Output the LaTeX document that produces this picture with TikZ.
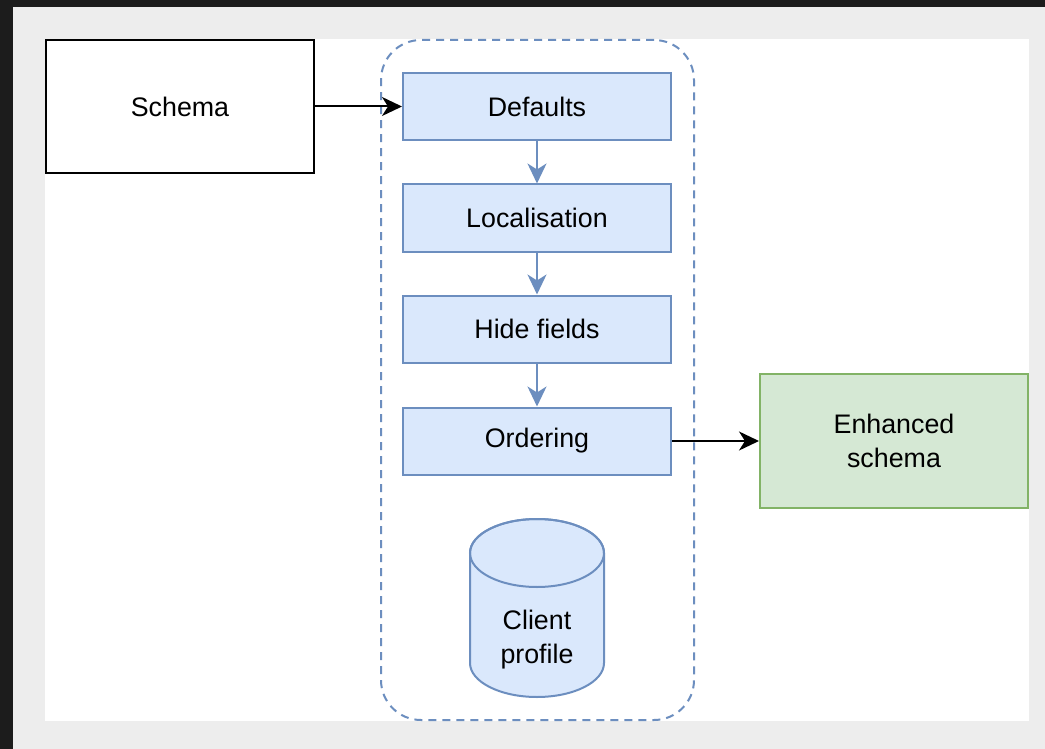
\documentclass[tikz,border=0pt]{standalone}
\usepackage{fontspec}
\setmainfont{Liberation Sans}
\usetikzlibrary{arrows.meta}

\definecolor{woodbg}{HTML}{1C1C1C}
\definecolor{panelgray}{HTML}{EDEDED}
\definecolor{stagefill}{HTML}{DAE8FC}
\definecolor{stageline}{HTML}{6C8EBF}
\definecolor{outfill}{HTML}{D5E8D4}
\definecolor{outline}{HTML}{82B366}

\tikzset{
    stage/.style={draw=stageline, fill=stagefill, line width=1pt, minimum width=134pt, minimum height=33.5pt, inner sep=0pt},
    bigbox/.style={line width=1pt, minimum width=134pt, minimum height=66.5pt, inner sep=0pt, align=center},
    flow/.style={line width=1pt, -{Stealth[length=10pt, width=9.5pt, inset=3pt]}}
}

\begin{document}
\begin{tikzpicture}[x=0.5pt, y=-0.5pt, font=\fontsize{13.4}{17}\selectfont]
        % Background
        \fill[woodbg] (0,0) rectangle (1045,749);
        \fill[panelgray] (13,7) rectangle (1045,749);
        \fill[white] (45,39) rectangle (1029,721);

        % Pipeline frame
        \node[draw=stageline, line width=1pt, dash pattern=on 4pt off 3pt, rounded corners=20pt, minimum width=156.5pt, minimum height=340pt] (pipeline) at (537.5,380) {};

        % Input and output
        \node[bigbox, draw=black] (schema) at (180,106.5) {Schema};
        \node[bigbox, draw=outline, fill=outfill, minimum height=67pt] (enhanced) at (894,441) {Enhanced\\schema};

        % Stages
        \node[stage] (defaults) at (537,106.5) {Defaults};
        \node[stage] (localisation) at (537,218) {Localisation};
        \node[stage] (hide) at (537,329) {Hide fields};
        \node[stage] (ordering) at (537,441) {Ordering};

        % Client profile store
        \filldraw[draw=stageline, fill=stagefill, line width=1pt] (470,553) -- (470,663) arc[start angle=180, end angle=360, x radius=67, y radius=-34] -- (604,553) arc[start angle=0, end angle=180, x radius=67, y radius=-34] -- cycle;
        \draw[stageline, line width=1pt] (537,553) ellipse[x radius=67, y radius=34];
        \node[align=center] (profile) at (537,640) {Client\\profile};

        % Connectors
        \draw[flow] (schema) -- (defaults);
        \draw[flow, stageline] (defaults) -- (localisation);
        \draw[flow, stageline] (localisation) -- (hide);
        \draw[flow, stageline] (hide) -- (ordering);
        \draw[flow] (ordering) -- (enhanced);
    \end{tikzpicture}
\end{document}
